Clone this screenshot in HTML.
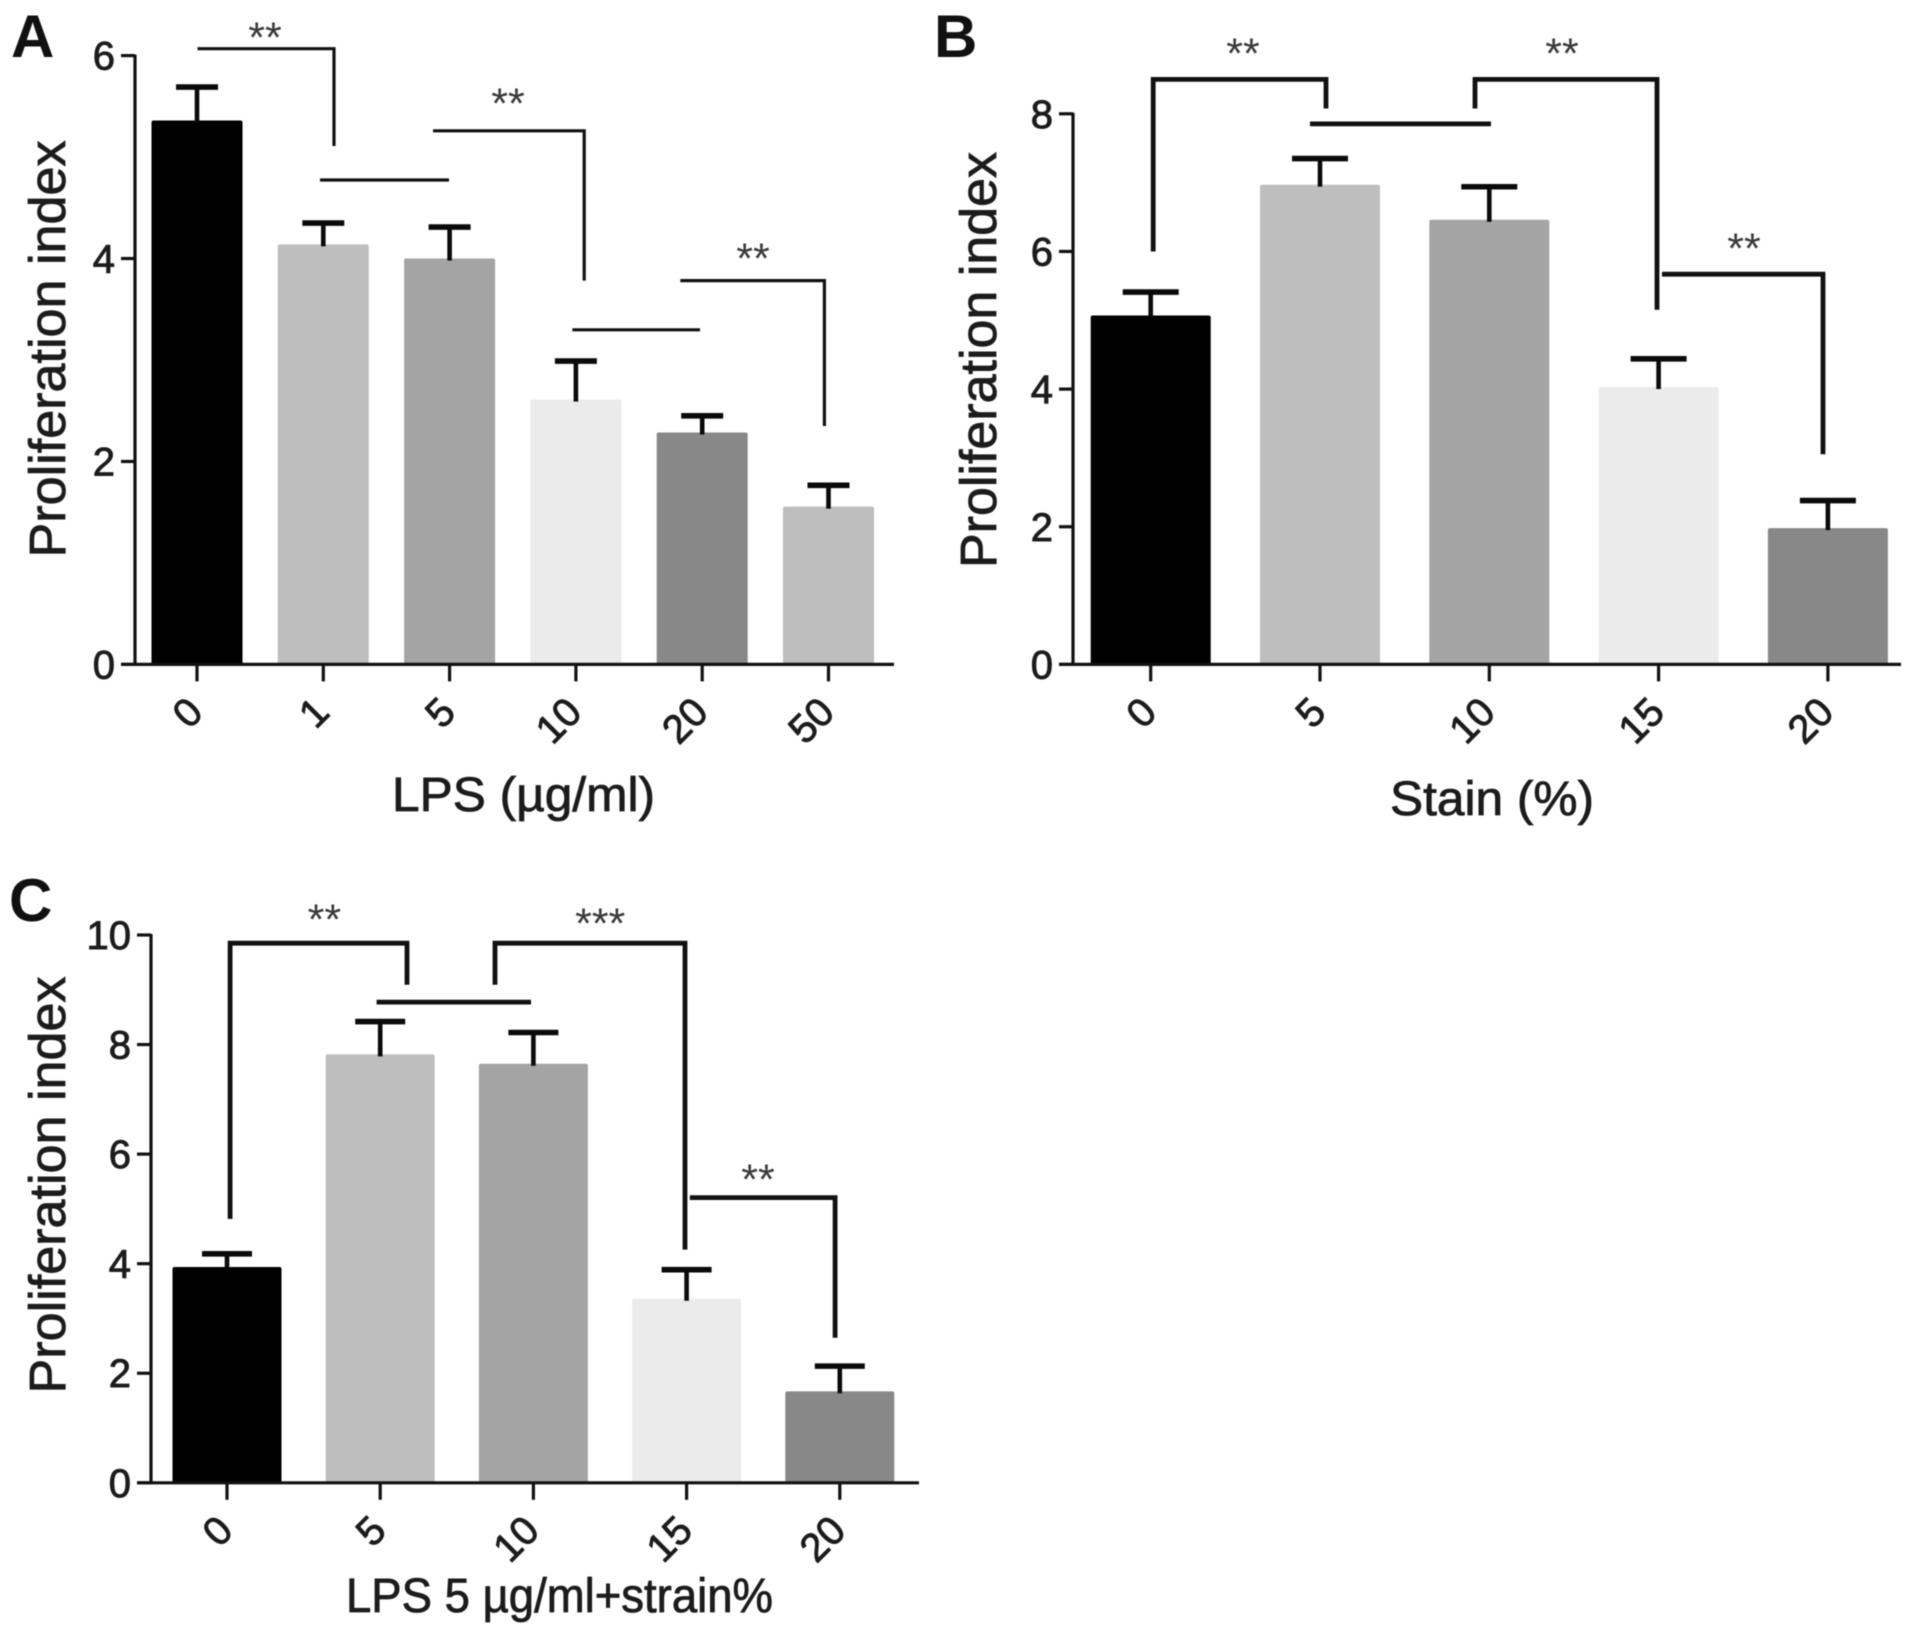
<!DOCTYPE html>
<html>
<head>
<meta charset="utf-8">
<title>Proliferation index charts</title>
<style>
html,body{margin:0;padding:0;background:#fff;}
svg{display:block;filter:blur(0.6px);}
text{font-family:"Liberation Sans",sans-serif;fill:#1c1c1c;}
.star{font-size:43px;fill:#3a3a3a;text-anchor:middle;}
.ln{fill:none;stroke:#111;stroke-linejoin:miter;}
.title{font-size:51px;stroke:#1c1c1c;stroke-width:.8px;}
.xt{font-size:48px;stroke:#1c1c1c;stroke-width:.8px;}
.tick{font-size:40px;stroke:#1c1c1c;stroke-width:.9px;}
.letter{font-size:60px;font-weight:bold;fill:#111;}
</style>
</head>
<body>
<svg id="fig" xmlns="http://www.w3.org/2000/svg" width="1913" height="1636" viewBox="0 0 1913 1636">
<rect x="0" y="0" width="1913" height="1636" fill="#fff"/>

<g id="panel-a">
<text class="letter" x="11" y="57">A</text>
<text class="title" transform="translate(65 349) rotate(-90)" text-anchor="middle" textLength="417" lengthAdjust="spacingAndGlyphs">Proliferation index</text>
<text class="xt" x="392" y="811" textLength="263" lengthAdjust="spacingAndGlyphs">LPS (µg/ml)</text>
<polyline class="ln" stroke-width="3.2" points="197.5,48.7 334,48.7 334,146"/>
<line class="ln" stroke-width="3.2" x1="320" y1="180" x2="449" y2="180"/>
<polyline class="ln" stroke-width="3.2" points="433,130.8 584.2,130.8 584.2,280.6"/>
<line class="ln" stroke-width="3.2" x1="572.4" y1="329.8" x2="700" y2="329.8"/>
<polyline class="ln" stroke-width="3.2" points="680.3,280.6 824.4,280.6 824.4,426"/>
<text class="star" x="265" y="52">**</text>
<text class="star" x="508" y="118">**</text>
<text class="star" x="753" y="273">**</text>
</g>

<g id="panel-b">
<text class="letter" x="934" y="57">B</text>
<text class="title" transform="translate(996 360) rotate(-90)" text-anchor="middle" textLength="416" lengthAdjust="spacingAndGlyphs">Proliferation index</text>
<text class="xt" x="1390" y="815" textLength="204" lengthAdjust="spacingAndGlyphs">Stain (%)</text>
<polyline class="ln" stroke-width="4.8" points="1153.2,251.5 1153.2,79.4 1326,79.4 1326,108.5"/>
<line class="ln" stroke-width="4.8" x1="1310" y1="123.9" x2="1491" y2="123.9"/>
<polyline class="ln" stroke-width="4.8" points="1475,108.5 1475,79.4 1657,79.4 1657,309.7"/>
<polyline class="ln" stroke-width="4.8" points="1662,274.2 1823,274.2 1823,454.2"/>
<text class="star" x="1243" y="68">**</text>
<text class="star" x="1562" y="68">**</text>
<text class="star" x="1744" y="263">**</text>
</g>

<g id="panel-c">
<text class="letter" x="9" y="921">C</text>
<text class="title" transform="translate(65 1185) rotate(-90)" text-anchor="middle" textLength="417" lengthAdjust="spacingAndGlyphs">Proliferation index</text>
<text class="xt" x="346" y="1612" textLength="427" lengthAdjust="spacingAndGlyphs">LPS 5 µg/ml+strain%</text>
<polyline class="ln" stroke-width="4.8" points="230.1,1218.9 230.1,943.2 407,943.2 407,984.8"/>
<line class="ln" stroke-width="4.8" x1="376.6" y1="1002.1" x2="531" y2="1002.1"/>
<polyline class="ln" stroke-width="4.8" points="495,984.8 495,943.2 685,943.2 685,1249.6"/>
<polyline class="ln" stroke-width="4.8" points="689.8,1197.6 835.1,1197.6 835.1,1337.7"/>
<text class="star" x="324.4" y="934">**</text>
<text class="star" x="600.2" y="938">***</text>
<text class="star" x="758" y="1194">**</text>
</g>
</svg>

<script>
var categoriesA = ["0", "1", "5", "10", "20", "50"];
var meansA = [5.36, 4.14, 4.0, 2.61, 2.285, 1.555];
var errorsA = [0.33, 0.21, 0.31, 0.38, 0.165, 0.21];
var yTicksA = [0, 2, 4, 6];

var categoriesB = ["0", "5", "10", "15", "20"];
var meansB = [5.07, 6.97, 6.46, 4.03, 1.98];
var errorsB = [0.34, 0.38, 0.48, 0.41, 0.40];
var yTicksB = [0, 2, 4, 6, 8];

var categoriesC = ["0", "5", "10", "15", "20"];
var meansC = [3.94, 7.82, 7.65, 3.36, 1.67];
var errorsC = [0.24, 0.60, 0.57, 0.53, 0.46];
var yTicksC = [0, 2, 4, 6, 8, 10];

var fillsA = ["#000000", "#bebebe", "#a4a4a4", "#ebebeb", "#888888", "#bebebe"];
var fillsBC = ["#000000", "#bebebe", "#a4a4a4", "#ebebeb", "#888888"];

var NS = "http://www.w3.org/2000/svg";

function mk(parent, tag, attrs, text) {
  var el = document.createElementNS(NS, tag);
  for (var k in attrs) { el.setAttribute(k, attrs[k]); }
  if (text !== undefined) { el.textContent = text; }
  parent.appendChild(el);
  return el;
}

function drawPanel(id, categories, means, errors, yTicks, fills, g) {
  var parent = document.getElementById(id);
  var root = mk(parent, "g", {});
  
  

  function sx(i) { return g.x0 + g.step * i; }
  function sy(v) { return g.base - (v / g.yMax) * (g.base - g.top); }

  categories.forEach(function (cat, i) {
    var bar = mk(root, "rect", {
      x: sx(i) - g.barW / 2, y: sy(means[i]),
      width: g.barW, height: g.base - sy(means[i]),
      rx: 2, fill: fills[i]
    });
    
    

    var stem = mk(root, "line", {
      x1: sx(i), x2: sx(i), y1: sy(means[i]) + 2, y2: sy(means[i] + errors[i]),
      stroke: "#0a0a0a", "stroke-width": 4.6
    });
    
    

    var cap = mk(root, "line", {
      x1: sx(i) - g.capW / 2, x2: sx(i) + g.capW / 2,
      y1: sy(means[i] + errors[i]), y2: sy(means[i] + errors[i]),
      stroke: "#0a0a0a", "stroke-width": 5.6
    });
    
    

    var tick = mk(root, "line", {
      x1: sx(i), x2: sx(i), y1: g.base, y2: g.base + 17,
      stroke: "#111", "stroke-width": 3.2
    });
    
    

    var lx = sx(i) + 8, ly = g.base + 50;
    var label = mk(root, "text", {
      "class": "tick", "text-anchor": "end",
      transform: "translate(" + lx + " " + ly + ") rotate(-45)"
    }, cat);
    
    
  });

  yTicks.forEach(function (v) {
    var tick = mk(root, "line", {
      x1: g.axisX - 14, x2: g.axisX, y1: sy(v), y2: sy(v),
      stroke: "#111", "stroke-width": 3.2
    });
    
    

    var label = mk(root, "text", {
      "class": "tick", "text-anchor": "end",
      x: g.axisX - 20, y: sy(v) + 14
    }, String(v));
    
    
  });

  var yAxis = mk(root, "line", {
    x1: g.axisX, x2: g.axisX, y1: g.top - 1, y2: g.base + 1,
    stroke: "#111", "stroke-width": 3.2
  });
  
  

  var xAxis = mk(root, "line", {
    x1: g.axisX - 14, x2: g.xEnd, y1: g.base, y2: g.base,
    stroke: "#111", "stroke-width": 3.2
  });
  
  
}

drawPanel("panel-a", categoriesA, meansA, errorsA, yTicksA, fillsA,
  { x0: 197, step: 126.3, barW: 91, capW: 42, axisX: 135, xEnd: 894, top: 55.6, base: 664.4, yMax: 6 });
drawPanel("panel-b", categoriesB, meansB, errorsB, yTicksB, fillsBC,
  { x0: 1150.7, step: 169.3, barW: 120, capW: 56, axisX: 1073, xEnd: 1901, top: 113.8, base: 664.4, yMax: 8 });
drawPanel("panel-c", categoriesC, meansC, errorsC, yTicksC, fillsBC,
  { x0: 227, step: 153.2, barW: 109, capW: 50, axisX: 151, xEnd: 919, top: 935, base: 1482.8, yMax: 10 });
</script>
</body>
</html>
